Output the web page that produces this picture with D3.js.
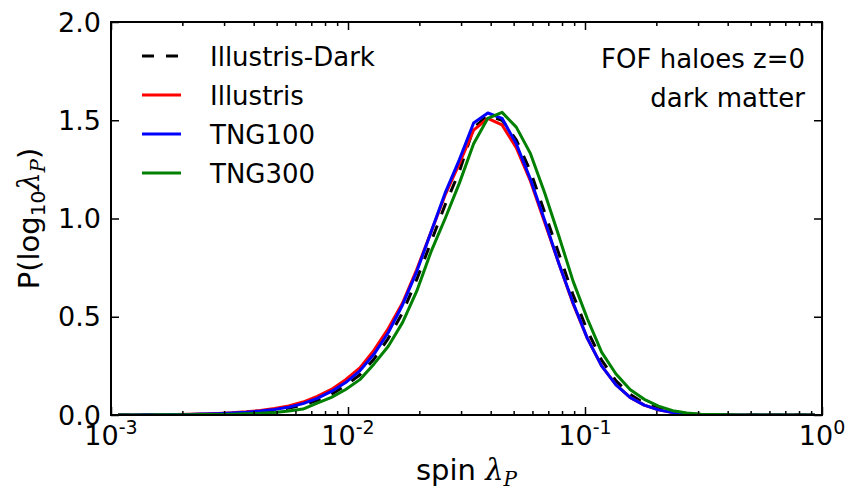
<!DOCTYPE html>
<html>
<head>
<meta charset="utf-8">
<script src="https://cdn.jsdelivr.net/npm/d3@7"></script>
<style>
  body { margin: 0; background: #fff; }
  text { font-family: "DejaVu Sans", sans-serif; fill: #000; }
</style>
</head>
<body>
<svg id="chart" width="848" height="496"></svg>
<script>
// bin centres in log10(lambda), 0.06 dex bins
var logLambda = [-2.97, -2.91, -2.85, -2.79, -2.73, -2.67, -2.61, -2.55, -2.49, -2.43,
                 -2.37, -2.31, -2.25, -2.19, -2.13, -2.07, -2.01, -1.95, -1.89, -1.83,
                 -1.77, -1.71, -1.65, -1.59, -1.53, -1.47, -1.41, -1.35, -1.29, -1.23,
                 -1.17, -1.11, -1.05, -0.99, -0.93, -0.87, -0.81, -0.75, -0.69, -0.63,
                 -0.57, -0.51, -0.45, -0.39, -0.33, -0.27, -0.21, -0.15, -0.09, -0.03];

var illustrisDark = [0.0003, 0.0005, 0.0008, 0.001, 0.002, 0.003, 0.004, 0.006, 0.008, 0.012,
                     0.017, 0.025, 0.035, 0.05, 0.075, 0.105, 0.15, 0.205, 0.285, 0.39,
                     0.52, 0.69, 0.88, 1.07, 1.24, 1.46, 1.525, 1.50, 1.40, 1.24,
                     1.03, 0.82, 0.61, 0.43, 0.28, 0.175, 0.105, 0.06, 0.032, 0.015,
                     0.006, 0.002, 0.001, 0.0005, 0, 0, 0, 0, 0, 0];

var illustris = [0.0003, 0.0006, 0.001, 0.0015, 0.002, 0.0035, 0.005, 0.008, 0.011, 0.016,
                 0.023, 0.033, 0.046, 0.066, 0.095, 0.13, 0.18, 0.24, 0.33, 0.44,
                 0.57, 0.74, 0.93, 1.12, 1.28, 1.45, 1.51, 1.476, 1.36, 1.19,
                 0.98, 0.77, 0.565, 0.39, 0.25, 0.155, 0.09, 0.05, 0.026, 0.012,
                 0.005, 0.002, 0.001, 0.0005, 0, 0, 0, 0, 0, 0];

var tng100 = [0.0003, 0.0005, 0.001, 0.0015, 0.002, 0.003, 0.005, 0.007, 0.01, 0.014,
              0.02, 0.028, 0.04, 0.058, 0.085, 0.12, 0.165, 0.225, 0.31, 0.42,
              0.56, 0.73, 0.93, 1.13, 1.30, 1.486, 1.537, 1.51, 1.38, 1.20,
              0.99, 0.77, 0.57, 0.39, 0.25, 0.155, 0.09, 0.05, 0.026, 0.012,
              0.005, 0.002, 0.001, 0.0005, 0, 0, 0, 0, 0, 0];

var tng300 = [0.0002, 0.0003, 0.0005, 0.0007, 0.001, 0.0015, 0.002, 0.003, 0.004, 0.006,
              0.009, 0.013, 0.02, 0.03, 0.06, 0.09, 0.13, 0.18, 0.26, 0.35,
              0.47, 0.63, 0.83, 1.00, 1.18, 1.38, 1.51, 1.54, 1.465, 1.33,
              1.13, 0.91, 0.68, 0.49, 0.32, 0.21, 0.13, 0.08, 0.045, 0.022,
              0.01, 0.004, 0.002, 0.001, 0.0005, 0, 0, 0, 0, 0];

var seriesNames = ["Illustris-Dark", "Illustris", "TNG100", "TNG300"];
var seriesColors = ["#000000", "#ff0000", "#0000ff", "#008000"];
var seriesValues = [illustrisDark, illustris, tng100, tng300];

var xMajor = [1e-3, 1e-2, 1e-1, 1];
var xMajorExp = ["-3", "-2", "-1", "0"];
var yTicks = [0, 0.5, 1.0, 1.5, 2.0];

var svg = d3.select("#chart");
var mLeft = 111, mRight = 822, mTop = 22, mBottom = 415;

var x = d3.scaleLog().domain([1e-3, 1]).range([mLeft, mRight]);
var y = d3.scaleLinear().domain([0, 2]).range([mBottom, mTop]);

// minor ticks 2..9 per decade
var xMinor = [];
[1e-3, 1e-2, 1e-1].forEach(function(d) {
  for (var m = 2; m <= 9; m++) xMinor.push(d * m);
});

svg.append("clipPath").attr("id", "clip")
  .append("rect")
    .attr("x", mLeft).attr("y", mTop)
    .attr("width", mRight - mLeft).attr("height", mBottom - mTop);

// curves
var line = d3.line()
  .x(function(d, i) { return x(Math.pow(10, logLambda[i])); })
  .y(function(d) { return y(d); });

var plot = svg.append("g").attr("clip-path", "url(#clip)");
seriesValues.forEach(function(vals, k) {
  plot.append("path")
    .datum(vals)
    .attr("d", line)
    .attr("fill", "none")
    .attr("stroke", seriesColors[k])
    .attr("stroke-width", 3)
    .attr("stroke-linejoin", "round")
    .attr("stroke-dasharray", k == 0 ? "12,12" : null);
});

// axes (ticks pointing inwards on all four sides)
function styleAxis(g) {
  g.select(".domain").remove();
  g.selectAll(".tick line").attr("stroke", "#000").attr("stroke-width", 1.5);
  g.selectAll(".tick text").remove();
}

svg.append("g").attr("transform", "translate(0," + mBottom + ")")
  .call(d3.axisBottom(x).tickValues(xMajor).tickSize(-8)).call(styleAxis);
svg.append("g").attr("transform", "translate(0," + mBottom + ")")
  .call(d3.axisBottom(x).tickValues(xMinor).tickSize(-4)).call(styleAxis);
svg.append("g").attr("transform", "translate(0," + mTop + ")")
  .call(d3.axisTop(x).tickValues(xMajor).tickSize(-8)).call(styleAxis);
svg.append("g").attr("transform", "translate(0," + mTop + ")")
  .call(d3.axisTop(x).tickValues(xMinor).tickSize(-4)).call(styleAxis);
svg.append("g").attr("transform", "translate(" + mLeft + ",0)")
  .call(d3.axisLeft(y).tickValues(yTicks).tickSize(-8)).call(styleAxis);
svg.append("g").attr("transform", "translate(" + mRight + ",0)")
  .call(d3.axisRight(y).tickValues(yTicks).tickSize(-8)).call(styleAxis);

svg.append("rect")
  .attr("x", mLeft).attr("y", mTop)
  .attr("width", mRight - mLeft).attr("height", mBottom - mTop)
  .attr("fill", "none").attr("stroke", "#000").attr("stroke-width", 2);

// tick labels
svg.selectAll(".ylab").data(yTicks).enter()
  .append("text")
    .attr("class", "ylab")
    .attr("x", mLeft - 10)
    .attr("y", function(d) { return y(d); })
    .attr("dy", "0.36em")
    .attr("text-anchor", "end")
    .style("font-size", "27px")
    .text(function(d) { return d3.format(".1f")(d); });

var xl = svg.selectAll(".xlab").data(xMajor).enter()
  .append("text")
    .attr("class", "xlab")
    .attr("x", function(d) { return x(d); })
    .attr("y", mBottom + 30)
    .attr("text-anchor", "middle")
    .style("font-size", "27px");
xl.append("tspan").text("10");
xl.append("tspan")
  .attr("dy", -11)
  .style("font-size", "19px")
  .text(function(d, i) { return xMajorExp[i]; });

// axis titles
var xt = svg.append("text")
  .attr("x", (mLeft + mRight) / 2)
  .attr("y", 480)
  .attr("text-anchor", "middle")
  .style("font-size", "29px");
xt.append("tspan").text("spin ");
xt.append("tspan").style("font-family", "DejaVu Serif, serif").style("font-style", "italic").text("λ");
xt.append("tspan").attr("dy", 6).style("font-size", "20px")
  .style("font-family", "DejaVu Serif, serif").style("font-style", "italic").text("P");

var yt = svg.append("text")
  .attr("transform", "translate(39," + (mTop + mBottom) / 2 + ") rotate(-90)")
  .attr("text-anchor", "middle")
  .style("font-size", "29px");
yt.append("tspan").text("P(log");
yt.append("tspan").attr("dy", 6).style("font-size", "20px").text("10");
yt.append("tspan").attr("dy", -6).style("font-family", "DejaVu Serif, serif").style("font-style", "italic").text("λ");
yt.append("tspan").attr("dy", 6).style("font-size", "20px")
  .style("font-family", "DejaVu Serif, serif").style("font-style", "italic").text("P");
yt.append("tspan").attr("dy", -6).text(")");

// legend
var legend = svg.append("g");
seriesNames.forEach(function(name, k) {
  var ly = 56 + k * 39;
  legend.append("line")
    .attr("x1", 142).attr("x2", 181)
    .attr("y1", ly).attr("y2", ly)
    .attr("stroke", seriesColors[k])
    .attr("stroke-width", 3)
    .attr("stroke-dasharray", k == 0 ? "12,12" : null);
  legend.append("text")
    .attr("x", 210).attr("y", ly + 10)
    .style("font-size", "26px")
    .text(name);
});

// annotation
svg.append("text")
  .attr("x", 805).attr("y", 68)
  .attr("text-anchor", "end")
  .style("font-size", "26px")
  .text("FOF haloes z=0");
svg.append("text")
  .attr("x", 805).attr("y", 107)
  .attr("text-anchor", "end")
  .style("font-size", "26px")
  .text("dark matter");
</script>
</body>
</html>
